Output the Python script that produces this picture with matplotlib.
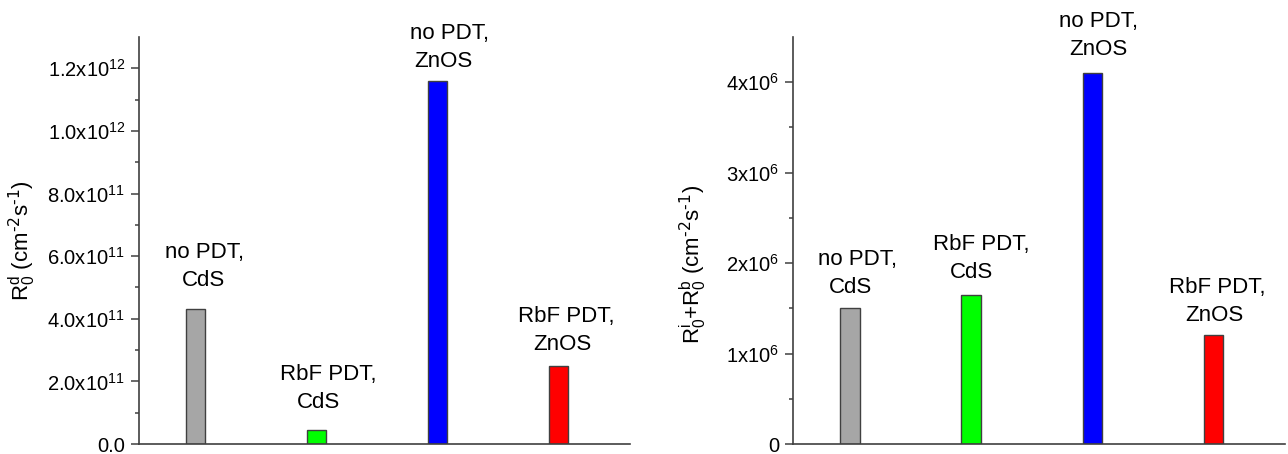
import matplotlib.pyplot as plt

plt.rcParams["font.family"] = ["Liberation Sans", "DejaVu Sans"]
plt.rcParams["mathtext.default"] = "regular"

# Samples, same order in both panels
samples = ["no PDT,\nCdS", "RbF PDT,\nCdS", "no PDT,\nZnOS", "RbF PDT,\nZnOS"]
bar_colors = ["#a6a6a6", "#00ff00", "#0000ff", "#ff0000"]

# Left panel: R0^d
rd_values = [4.3e11, 0.45e11, 1.16e12, 2.5e11]
rd_ticks = [0, 2e11, 4e11, 6e11, 8e11, 1.0e12, 1.2e12]
rd_ticklabels = ["0.0", "2.0x10$^{11}$", "4.0x10$^{11}$", "6.0x10$^{11}$",
                 "8.0x10$^{11}$", "1.0x10$^{12}$", "1.2x10$^{12}$"]

# Right panel: R0^i + R0^b
rib_values = [1.5e6, 1.65e6, 4.1e6, 1.2e6]
rib_ticks = [0, 1e6, 2e6, 3e6, 4e6]
rib_ticklabels = ["0", "1x10$^{6}$", "2x10$^{6}$", "3x10$^{6}$", "4x10$^{6}$"]

# hand placed label offsets (pixels): first line dx, second line dx, gap above bar
left_offsets = [(9, 8, 23), (12, 2, 22), (12, 6, 14), (8, 4, 16)]
right_offsets = [(8, 1, 15), (10, 0, 17), (6, 6, 18), (4, 1, 14)]

AX_COLOR = "#404040"
LINE_GAP = 28
LABEL_SIZE = 16
UNITS = r"(cm$^{\text{-2}}$s$^{\text{-1}}$)"


def panel(ax, values, ticks, ticklabels, ymax, ylabel, offsets):
    x = range(1, len(values) + 1)
    ax.bar(x, values, width=0.16, color=bar_colors, edgecolor=AX_COLOR, linewidth=1)
    ax.set_xlim(0.53, 4.59)
    ax.set_ylim(0, ymax)
    ax.set_xticks([])
    ax.set_yticks(ticks)
    ax.set_yticklabels(ticklabels)
    minor = [(a + b) / 2 for a, b in zip(ticks[:-1], ticks[1:])]
    ax.set_yticks(minor, minor=True)
    ax.tick_params(axis="y", which="major", length=6, width=1.1, pad=4,
                   labelsize=14.5, color=AX_COLOR)
    ax.tick_params(axis="y", which="minor", length=3, width=1.1, color=AX_COLOR)
    for side in ["top", "right"]:
        ax.spines[side].set_visible(False)
    for side in ["left", "bottom"]:
        ax.spines[side].set_color(AX_COLOR)
        ax.spines[side].set_linewidth(1.2)
    ax.set_ylabel(ylabel, fontsize=LABEL_SIZE)

    for xi, val, name, (dx1, dx2, gap) in zip(x, values, samples, offsets):
        line1, line2 = name.split("\n")
        ax.annotate(line2, (xi, val), xytext=(dx2, gap), textcoords="offset pixels",
                    ha="center", va="baseline", fontsize=LABEL_SIZE)
        ax.annotate(line1, (xi, val), xytext=(dx1, gap + LINE_GAP),
                    textcoords="offset pixels", ha="center", va="baseline",
                    fontsize=LABEL_SIZE, annotation_clip=False)


fig = plt.figure(figsize=(12.88, 4.54), dpi=100)
ax1 = fig.add_axes([0.1079, 0.022, 0.3812, 0.8965])
ax2 = fig.add_axes([0.6157, 0.022, 0.382, 0.8965])

panel(ax1, rd_values, rd_ticks, rd_ticklabels, 1.3e12,
      "R$_{0}^{d}$ " + UNITS, left_offsets)
panel(ax2, rib_values, rib_ticks, rib_ticklabels, 4.5e6,
      "R$_{0}^{i}$+R$_{0}^{b}$ " + UNITS, right_offsets)

ax1.yaxis.set_label_coords(-0.205, 0.5)
ax2.yaxis.set_label_coords(-0.17, 0.44)

fig.savefig("out.png", dpi=100)
